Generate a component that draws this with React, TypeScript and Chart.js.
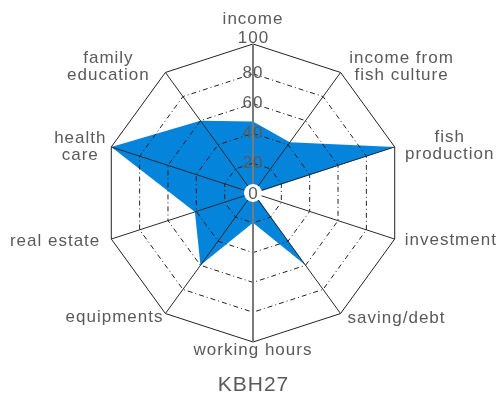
import React, { useEffect, useRef } from "react";
import { Chart, registerables } from "chart.js";

Chart.register(...registerables);

const categories: string[][] = [
  ["income"],
  ["income from", "fish culture"],
  ["fish", "production"],
  ["investment"],
  ["saving/debt"],
  ["working hours"],
  ["equipments"],
  ["real estate"],
  ["health", "care"],
  ["family", "education"],
];
const values = [48, 42, 100, 1, 60, 20, 60, 41, 100, 60];
const tickValues = [0, 20, 40, 60, 80, 100];
const title = "KBH27";

const FONT = "'Liberation Sans', Arial, sans-serif";
const GRAY = "#5a5a5a";
const LINE_H = 17.5;

// label placement relative to each outer vertex: [align, dx, dy of first baseline]
const labelLayout: [CanvasTextAlign, number, number][] = [
  ["center", 0, -20],
  ["center", 61, -9.5],
  ["center", 55, -5],
  ["left", 10, 6],
  ["left", 7, 9.5],
  ["center", 0, 13],
  ["right", -2, 8.5],
  ["right", -11, 7],
  ["center", -31, -4],
  ["center", -57, -9.5],
];

const spacing = {
  id: "spacing",
  beforeDraw(chart: any) {
    (chart.ctx as any).letterSpacing = "1px";
  },
};

const extraLabels = {
  id: "extraLabels",
  afterDraw(chart: any) {
    const r = chart.scales.r;
    const ctx = chart.ctx;
    ctx.save();
    (ctx as any).letterSpacing = "1px";
    ctx.font = `17px ${FONT}`;
    ctx.fillStyle = GRAY;
    // category labels
    ctx.textBaseline = "alphabetic";
    categories.forEach((lines, i) => {
      const v = r.getPointPositionForValue(i, tickValues[tickValues.length - 1]);
      const [align, dx, dy] = labelLayout[i];
      ctx.textAlign = align;
      lines.forEach((line, k) => {
        ctx.fillText(line, v.x + dx, v.y + dy + k * LINE_H);
      });
    });
    ctx.textAlign = "center";
    ctx.textBaseline = "middle";
    // zero label with white round backdrop
    const p0 = r.getPointPositionForValue(0, tickValues[0]);
    ctx.fillStyle = "#ffffff";
    ctx.beginPath();
    ctx.arc(p0.x, p0.y, 9, 0, Math.PI * 2);
    ctx.fill();
    ctx.fillStyle = GRAY;
    ctx.fillText(String(tickValues[0]), p0.x + 0.5, p0.y + 1);
    // top tick label just above the outer vertex
    const pt = r.getPointPositionForValue(0, tickValues[tickValues.length - 1]);
    ctx.fillText(String(tickValues[tickValues.length - 1]), pt.x + 0.5, pt.y - 6);
    ctx.restore();
  },
};

export default function App() {
  const ref = useRef<HTMLCanvasElement | null>(null);
  useEffect(() => {
    if (!ref.current) return;
    const chart = new Chart(ref.current, {
      type: "radar",
      data: {
        labels: categories.map((l) => l.join(" ")),
        datasets: [
          {
            data: values,
            backgroundColor: "#0584DB",
            borderColor: "#0584DB",
            borderWidth: 0,
            pointRadius: 0,
            fill: true,
          },
        ],
      },
      options: {
        animation: false,
        responsive: false,
        maintainAspectRatio: false,
        layout: { padding: { left: 94, right: 91, top: 34, bottom: 0 } },
        plugins: {
          legend: { display: false },
          tooltip: { enabled: false },
          title: {
            display: true,
            text: title,
            position: "bottom",
            color: GRAY,
            font: { family: FONT, size: 21, weight: "normal", lineHeight: 0.85 },
            padding: { top: 23, bottom: 0 },
          },
        },
        scales: {
          r: {
            min: 0,
            max: 100,
            beginAtZero: true,
            ticks: {
              z: 2,
              stepSize: 20,
              showLabelBackdrop: false,
              color: GRAY,
              font: { family: FONT, size: 17 },
              callback: (v: any) => (v === 100 ? "" : String(v)),
            },
            grid: {
              z: 1,
              color: "#222222",
              lineWidth: 1,
            },
            border: {
              dash: (c: any) => (c.index === tickValues.length - 1 ? [] : [5, 3, 1, 3]),
            },
            angleLines: {
              color: (c: any) => (c.index === 0 || c.index === 5 ? "#7a7a7a" : "#2a2a2a"),
              lineWidth: (c: any) => (c.index === 0 || c.index === 5 ? 2 : 1),
            },
            pointLabels: {
              display: false,
            },
          },
        },
      },
      plugins: [spacing, extraLabels],
    });
    return () => chart.destroy();
  }, []);
  return (
    <div style={{ position: "fixed", left: 0, top: 0, width: 504, height: 394, background: "#fff" }}>
      <canvas ref={ref} width={504} height={394} style={{ width: 504, height: 394 }} />
    </div>
  );
}
